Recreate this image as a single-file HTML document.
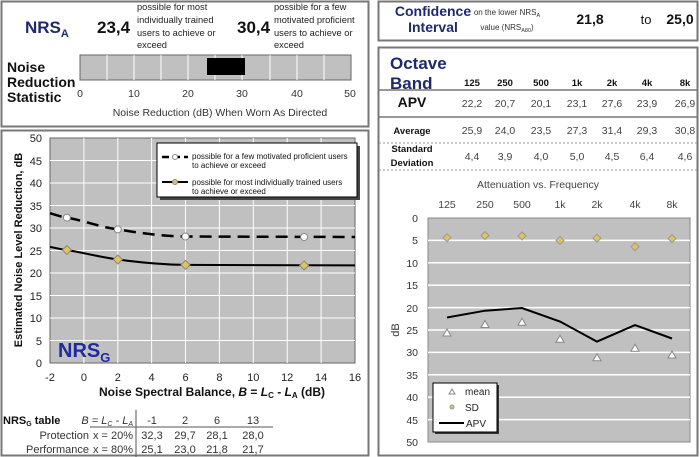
<!DOCTYPE html>
<html><head><meta charset="utf-8"><style>
html,body{margin:0;padding:0;background:#fff;}
svg{display:block;font-family:"Liberation Sans",Arial,sans-serif;}
</style></head><body>
<svg width="700" height="457" viewBox="0 0 700 457" xmlns="http://www.w3.org/2000/svg">
<rect width="700" height="457" fill="#fff"/>
<rect x="1.5" y="1.5" width="367" height="125" fill="none" stroke="#777" stroke-width="2"/>
<rect x="1.5" y="130.5" width="367" height="325" fill="none" stroke="#777" stroke-width="2"/>
<rect x="378.5" y="1.5" width="319" height="39" fill="none" stroke="#777" stroke-width="2"/>
<rect x="378.5" y="47.5" width="319" height="408" fill="none" stroke="#777" stroke-width="2"/>

<text x="25" y="33" font-size="17" font-weight="bold" fill="#1f2a6e">NRS<tspan font-size="11" dy="4">A</tspan></text>
<text x="97" y="33" font-size="17" font-weight="bold" fill="#111">23,4</text>
<g font-size="9.3" fill="#222">
<text x="137" y="10">possible for most</text><text x="137" y="23">individually trained</text><text x="137" y="36">users to achieve or</text><text x="137" y="48">exceed</text>
<text x="274" y="10">possible for a few</text><text x="274" y="23">motivated proficient</text><text x="274" y="36">users to achieve or</text><text x="274" y="48">exceed</text>
</g>
<text x="237" y="33" font-size="17" font-weight="bold" fill="#111">30,4</text>
<g font-size="14" font-weight="bold" fill="#111"><text x="7" y="72">Noise</text><text x="7" y="87">Reduction</text><text x="7" y="102">Statistic</text></g>
<rect x="80" y="55" width="271" height="25" fill="#c0c0c0" stroke="#666"/>
<g stroke="#fff" stroke-width="1">
<line x1="107" y1="55" x2="107" y2="80"/><line x1="134" y1="55" x2="134" y2="80"/><line x1="161" y1="55" x2="161" y2="80"/><line x1="188" y1="55" x2="188" y2="80"/><line x1="215" y1="55" x2="215" y2="80"/><line x1="242" y1="55" x2="242" y2="80"/><line x1="270" y1="55" x2="270" y2="80"/><line x1="297" y1="55" x2="297" y2="80"/><line x1="324" y1="55" x2="324" y2="80"/>
</g>
<rect x="207" y="58" width="38" height="17" fill="#000"/>
<g font-size="10.5" fill="#333" text-anchor="middle">
<text x="80" y="97">0</text><text x="134" y="97">10</text><text x="188" y="97">20</text><text x="242" y="97">30</text><text x="297" y="97">40</text><text x="350" y="97">50</text>
<text x="220" y="116">Noise Reduction (dB) When Worn As Directed</text>
</g>

<rect x="50" y="138" width="305" height="225" fill="#c0c0c0" stroke="#666"/>
<g stroke="#fff" stroke-width="1">
<line x1="50" y1="340.5" x2="355" y2="340.5"/><line x1="50" y1="318" x2="355" y2="318"/><line x1="50" y1="295.5" x2="355" y2="295.5"/><line x1="50" y1="273" x2="355" y2="273"/><line x1="50" y1="250.5" x2="355" y2="250.5"/><line x1="50" y1="228" x2="355" y2="228"/><line x1="50" y1="205.5" x2="355" y2="205.5"/><line x1="50" y1="183" x2="355" y2="183"/><line x1="50" y1="160.5" x2="355" y2="160.5"/>
<line x1="83.9" y1="138" x2="83.9" y2="363"/><line x1="117.8" y1="138" x2="117.8" y2="363"/><line x1="151.6" y1="138" x2="151.6" y2="363"/><line x1="185.5" y1="138" x2="185.5" y2="363"/><line x1="219.4" y1="138" x2="219.4" y2="363"/><line x1="253.3" y1="138" x2="253.3" y2="363"/><line x1="287.2" y1="138" x2="287.2" y2="363"/><line x1="321.1" y1="138" x2="321.1" y2="363"/>
</g>
<path d="M50,213.2 C58,215.5 62,217 66.9,217.6 C85,221 100,227 117.8,229.4 C140,233 160,236 185.5,236.5 L355,237" fill="none" stroke="#000" stroke-width="2.5" stroke-dasharray="12,7"/>
<path d="M50,246.9 C58,248.5 62,249.5 66.9,250 C85,253 100,257 117.8,259.5 C140,262.5 160,264.6 185.5,264.9 L355,265.4" fill="none" stroke="#000" stroke-width="2"/>
<g fill="#fff" stroke="#888" stroke-width="1">
<circle cx="66.9" cy="217.6" r="3.5"/><circle cx="117.8" cy="229.4" r="3.5"/><circle cx="185.5" cy="236.5" r="3.5"/><circle cx="304.1" cy="237" r="3.5"/>
</g>
<g fill="#e3c25a" stroke="#888" stroke-width="1">
<path d="M66.9,245.5 l4.5,4.5 l-4.5,4.5 l-4.5,-4.5z"/><path d="M117.8,255 l4.5,4.5 l-4.5,4.5 l-4.5,-4.5z"/><path d="M185.5,260.4 l4.5,4.5 l-4.5,4.5 l-4.5,-4.5z"/><path d="M304.1,260.9 l4.5,4.5 l-4.5,4.5 l-4.5,-4.5z"/>
</g>
<rect x="160" y="146" width="200" height="54" fill="#444"/>
<rect x="157" y="143" width="200" height="54" fill="#fff" stroke="#000"/>
<line x1="162" y1="157" x2="188" y2="157" stroke="#000" stroke-width="2.5" stroke-dasharray="7,4"/>
<circle cx="175" cy="157" r="2.5" fill="#fff" stroke="#888"/>
<line x1="162" y1="182" x2="188" y2="182" stroke="#000" stroke-width="2"/>
<circle cx="175" cy="182" r="2.5" fill="#e3c25a" stroke="#888"/>
<g font-size="8" fill="#111"><text x="192" y="159">possible for a few motivated proficient users</text><text x="192" y="168">to achieve or exceed</text><text x="192" y="185">possible for most individually trained users</text><text x="192" y="194">to achieve or exceed</text></g>
<text x="58" y="357" font-size="20" font-weight="bold" fill="#1f2a9e">NRS<tspan font-size="13" dy="5">G</tspan></text>
<g font-size="11" fill="#222" text-anchor="end">
<text x="42" y="367">0</text><text x="42" y="345">5</text><text x="42" y="322">10</text><text x="42" y="300">15</text><text x="42" y="277">20</text><text x="42" y="255">25</text><text x="42" y="232">30</text><text x="42" y="210">35</text><text x="42" y="187">40</text><text x="42" y="165">45</text><text x="42" y="142">50</text>
</g>
<g font-size="11" fill="#222" text-anchor="middle">
<text x="50" y="381">-2</text><text x="83.9" y="381">0</text><text x="117.8" y="381">2</text><text x="151.6" y="381">4</text><text x="185.5" y="381">6</text><text x="219.4" y="381">8</text><text x="253.3" y="381">10</text><text x="287.2" y="381">12</text><text x="321.1" y="381">14</text><text x="355" y="381">16</text>
</g>
<text x="212" y="396" font-size="12" font-weight="bold" text-anchor="middle" fill="#111">Noise Spectral Balance, <tspan font-style="italic">B</tspan> = <tspan font-style="italic">L</tspan><tspan font-size="8" dy="2">C</tspan><tspan dy="-2"> - </tspan><tspan font-style="italic">L</tspan><tspan font-size="8" dy="2">A</tspan><tspan dy="-2"> (dB)</tspan></text>
<text transform="translate(22,250) rotate(-90)" font-size="11" font-weight="bold" text-anchor="middle" fill="#111">Estimated Noise Level Reduction, dB</text>
<text x="3" y="424" font-size="11" font-weight="bold" fill="#111">NRS<tspan font-size="7" dy="2">G</tspan><tspan dy="-2"> table</tspan></text>
<text x="133" y="424" font-size="11" font-style="italic" fill="#333" text-anchor="end">B = L<tspan font-size="7" dy="2">C</tspan><tspan dy="-2"> - L</tspan><tspan font-size="7" dy="2">A</tspan></text>
<line x1="136" y1="410" x2="136" y2="457" stroke="#555"/>
<line x1="90" y1="427" x2="273" y2="427" stroke="#555"/>
<g font-size="11" fill="#333">
<g text-anchor="end"><text x="89" y="439">Protection</text><text x="89" y="453">Performance</text><text x="133" y="439">x = 20%</text><text x="133" y="453">x = 80%</text></g>
<g text-anchor="middle">
<text x="152" y="424">-1</text><text x="185" y="424">2</text><text x="217" y="424">6</text><text x="253" y="424">13</text>
<text x="152" y="439">32,3</text><text x="185" y="439">29,7</text><text x="217" y="439">28,1</text><text x="253" y="439">28,0</text>
<text x="152" y="453">25,1</text><text x="185" y="453">23,0</text><text x="217" y="453">21,8</text><text x="253" y="453">21,7</text>
</g></g>

<g font-size="14" font-weight="bold" fill="#1f2a6e" text-anchor="middle"><text x="433" y="16">Confidence</text><text x="433" y="32">Interval</text></g>
<g font-size="8" fill="#333" text-anchor="middle"><text x="507" y="15">on the lower NRS<tspan font-size="5.5" dy="2">A</tspan></text><text x="507" y="30">value (NRS<tspan font-size="5.5" dy="2">A80</tspan><tspan dy="-2">)</tspan></text></g>
<g font-size="14" font-weight="bold" fill="#111" text-anchor="middle"><text x="590" y="24">21,8</text><text x="680" y="24">25,0</text></g>
<text x="646" y="24" font-size="13" fill="#111" text-anchor="middle">to</text>

<g font-size="17" font-weight="bold" fill="#1f2a6e"><text x="390" y="69">Octave</text><text x="390" y="89">Band</text></g>
<g font-size="9.5" font-weight="bold" fill="#111" text-anchor="middle">
<text x="472" y="86">125</text><text x="505" y="86">250</text><text x="541" y="86">500</text><text x="577" y="86">1k</text><text x="612" y="86">2k</text><text x="647" y="86">4k</text><text x="685" y="86">8k</text>
</g>
<line x1="379" y1="90" x2="697" y2="90" stroke="#777" stroke-width="1.5"/>
<line x1="379" y1="117" x2="697" y2="117" stroke="#777" stroke-width="1.5"/>
<line x1="379" y1="143" x2="697" y2="143" stroke="#999" stroke-dasharray="2,2"/>
<line x1="379" y1="170" x2="697" y2="170" stroke="#999" stroke-dasharray="2,2"/>
<text x="412" y="107" font-size="14" font-weight="bold" fill="#111" text-anchor="middle">APV</text>
<text x="412" y="134" font-size="9.5" font-weight="bold" fill="#111" text-anchor="middle">Average</text>
<g font-size="9.5" font-weight="bold" fill="#111" text-anchor="middle"><text x="412" y="152">Standard</text><text x="412" y="166">Deviation</text></g>
<g font-size="10.5" fill="#444" text-anchor="middle">
<text x="472" y="107">22,2</text><text x="505" y="107">20,7</text><text x="541" y="107">20,1</text><text x="577" y="107">23,1</text><text x="612" y="107">27,6</text><text x="647" y="107">23,9</text><text x="685" y="107">26,9</text>
<text x="472" y="134">25,9</text><text x="505" y="134">24,0</text><text x="541" y="134">23,5</text><text x="577" y="134">27,3</text><text x="612" y="134">31,4</text><text x="647" y="134">29,3</text><text x="685" y="134">30,8</text>
<text x="472" y="160">4,4</text><text x="505" y="160">3,9</text><text x="541" y="160">4,0</text><text x="577" y="160">5,0</text><text x="612" y="160">4,5</text><text x="647" y="160">6,4</text><text x="685" y="160">4,6</text>
<text x="538" y="188">Attenuation  vs. Frequency</text>
<text x="447" y="208">125</text><text x="485" y="208">250</text><text x="522" y="208">500</text><text x="560" y="208">1k</text><text x="597" y="208">2k</text><text x="635" y="208">4k</text><text x="672" y="208">8k</text>
</g>
<rect x="428" y="218" width="262" height="224" fill="#c0c0c0" stroke="#888"/>
<g stroke="#fff" stroke-width="1.5">
<line x1="428" y1="240.4" x2="690" y2="240.4"/><line x1="428" y1="262.8" x2="690" y2="262.8"/><line x1="428" y1="285.2" x2="690" y2="285.2"/><line x1="428" y1="307.6" x2="690" y2="307.6"/><line x1="428" y1="330" x2="690" y2="330"/><line x1="428" y1="352.4" x2="690" y2="352.4"/><line x1="428" y1="374.8" x2="690" y2="374.8"/><line x1="428" y1="397.2" x2="690" y2="397.2"/><line x1="428" y1="419.6" x2="690" y2="419.6"/>
</g>
<g font-size="10.5" fill="#333" text-anchor="end">
<text x="418" y="222">0</text><text x="418" y="244">5</text><text x="418" y="267">10</text><text x="418" y="289">15</text><text x="418" y="312">20</text><text x="418" y="334">25</text><text x="418" y="356">30</text><text x="418" y="379">35</text><text x="418" y="401">40</text><text x="418" y="424">45</text><text x="418" y="446">50</text>
</g>
<text transform="translate(399,330) rotate(-90)" font-size="11" fill="#333" text-anchor="middle">dB</text>
<polyline points="447,317.5 485,310.7 522,308 560,321.5 597,341.6 635,325.1 672,338.5" fill="none" stroke="#000" stroke-width="2"/>
<g fill="#fff" stroke="#888" stroke-width="1">
<path d="M447,329 l4,7 h-8z"/><path d="M485,320.5 l4,7 h-8z"/><path d="M522,318.3 l4,7 h-8z"/><path d="M560,335.3 l4,7 h-8z"/><path d="M597,353.7 l4,7 h-8z"/><path d="M635,344.3 l4,7 h-8z"/><path d="M672,351 l4,7 h-8z"/>
</g>
<g fill="#e3c25a" stroke="#999" stroke-width="1">
<path d="M447,233.7 l4,4 l-4,4 l-4,-4z"/><path d="M485,231.5 l4,4 l-4,4 l-4,-4z"/><path d="M522,231.9 l4,4 l-4,4 l-4,-4z"/><path d="M560,236.4 l4,4 l-4,4 l-4,-4z"/><path d="M597,234.2 l4,4 l-4,4 l-4,-4z"/><path d="M635,242.7 l4,4 l-4,4 l-4,-4z"/><path d="M672,234.6 l4,4 l-4,4 l-4,-4z"/>
</g>
<rect x="435" y="385" width="64" height="49" fill="#333"/>
<rect x="433" y="383" width="64" height="49" fill="#fff" stroke="#000"/>
<path d="M452,389 l3,5 h-6z" fill="#fff" stroke="#888"/>
<circle cx="452" cy="407" r="2" fill="#e3c25a" stroke="#999"/>
<line x1="439" y1="423" x2="464" y2="423" stroke="#000" stroke-width="2"/>
<g font-size="10" fill="#222"><text x="465" y="395">mean</text><text x="465" y="411">SD</text><text x="466" y="427">APV</text></g>
</svg>
</body></html>
